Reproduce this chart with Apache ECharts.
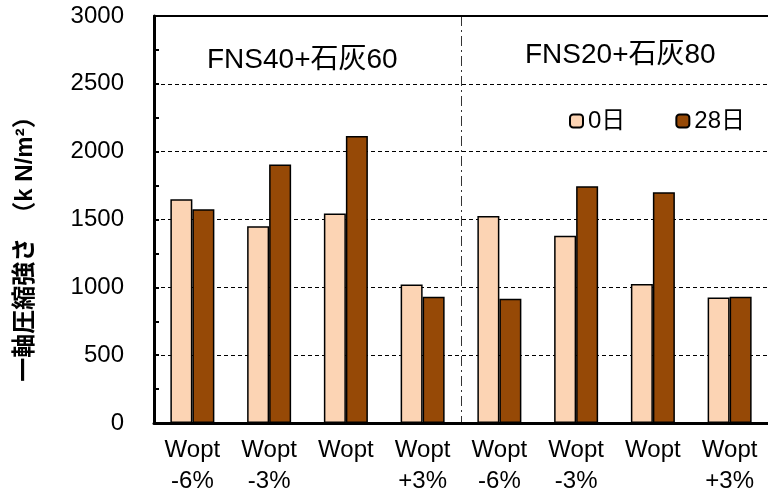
<!DOCTYPE html>
<html>
<head>
<meta charset="utf-8">
<script src="https://cdn.jsdelivr.net/npm/echarts@6/dist/echarts.min.js"></script>
<style>
  html, body { margin: 0; padding: 0; background: #fff; }
  #chart { width: 768px; height: 498px; }
</style>
</head>
<body>
<div id="chart"></div>
<script>
// categories (two-line tick labels)
const categories = [
  "Wopt\n-6%", "Wopt\n-3%", "Wopt\n", "Wopt\n+3%",
  "Wopt\n-6%", "Wopt\n-3%", "Wopt\n", "Wopt\n+3%"
];
const seriesNames = ["0日", "28日"];
const day0 = [1650, 1450, 1545, 1020, 1525, 1380, 1025, 925];
const day28 = [1575, 1905, 2115, 930, 915, 1745, 1700, 930];
const groupTitles = ["FNS40+石灰60", "FNS20+石灰80"];
const yAxisTitle = "一軸圧縮強さ　（k N/m²）";

const font = "'Liberation Sans', Arial, 'Noto Sans CJK JP', sans-serif";

const chartDom = document.getElementById("chart");
const myChart = echarts.init(chartDom);

const option = {
  animation: false,
  textStyle: { fontFamily: font },
  grid: { left: 154, right: -2, top: 16, bottom: 75 },
  legend: {
    left: 564,
    top: 104,
    itemWidth: 13,
    itemHeight: 13,
    itemGap: 50,
    textStyle: { fontSize: 24, color: "#000", fontFamily: font },
    data: seriesNames,
  },
  xAxis: [
    {
      type: "category",
      data: categories,
      axisLine: { lineStyle: { color: "#000", width: 3 } },
      axisTick: { show: false },
      axisLabel: {
        color: "#000",
        fontSize: 24,
        lineHeight: 31,
        margin: 12,
        interval: 0,
      },
    },
    {
      type: "category",
      position: "top",
      data: categories,
      axisLine: { lineStyle: { color: "#000", width: 2 } },
      axisTick: { show: false },
      axisLabel: { show: false },
    },
    {
      // hidden helper axis: only the group divider line in the middle
      type: "value",
      min: 0,
      max: 8,
      interval: 4,
      position: "bottom",
      axisLine: { show: false },
      axisTick: { show: false },
      axisLabel: { show: false },
      splitLine: {
        show: true,
        showMinLine: false,
        showMaxLine: false,
        lineStyle: { color: "#333", width: 1, type: [10, 4, 2, 4] },
      },
    },
  ],
  yAxis: {
    type: "value",
    min: 0,
    max: 3000,
    interval: 500,
    axisLine: { show: true, lineStyle: { color: "#000", width: 3 } },
    axisTick: { show: true, inside: true, length: 5, lineStyle: { color: "#000", width: 2 } },
    minorTick: { show: true, splitNumber: 2, length: 5, lineStyle: { color: "#000", width: 2 } },
    axisLabel: { color: "#000", fontSize: 24, margin: 30, formatter: (v) => String(v) },
    splitLine: { lineStyle: { color: "#000", width: 1, type: [4, 3] } },
  },
  series: [
    {
      name: seriesNames[0],
      type: "bar",
      data: day0,
      barWidth: 22,
      barGap: "0%",
      itemStyle: { color: "#FCD4B4", borderColor: "#000", borderWidth: 1.5 },
    },
    {
      name: seriesNames[1],
      type: "bar",
      data: day28,
      barWidth: 22,
      barGap: "0%",
      itemStyle: { color: "#964906", borderColor: "#000", borderWidth: 1.5 },
    },
  ],
  graphic: [
    {
      type: "text",
      left: 303 - 96,
      top: 46,
      style: { text: groupTitles[0], fontSize: 28, fill: "#000", fontFamily: font },
    },
    {
      type: "text",
      left: 621 - 96,
      top: 41,
      style: { text: groupTitles[1], fontSize: 28, fill: "#000", fontFamily: font },
    },
    {
      type: "text",
      x: 25,
      y: 243,
      rotation: Math.PI / 2,
      style: {
        text: yAxisTitle,
        fontSize: 24,
        fontWeight: "bold",
        fill: "#000",
        fontFamily: font,
        align: "center",
        verticalAlign: "middle",
      },
    },
  ],
};

myChart.setOption(option);
</script>
</body>
</html>
